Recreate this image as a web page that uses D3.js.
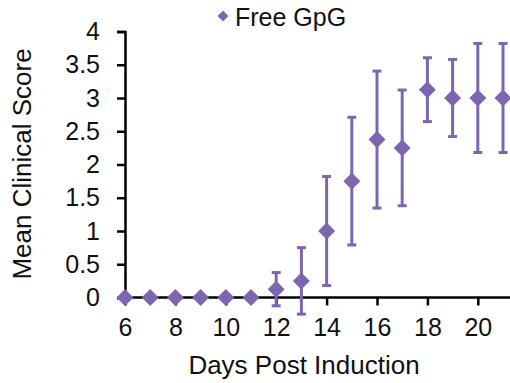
<!DOCTYPE html>
<html>
<head>
<meta charset="utf-8">
<script src="https://cdn.jsdelivr.net/npm/d3@7/dist/d3.min.js"></script>
<style>
  html, body { margin: 0; padding: 0; background: #fff; }
  svg { display: block; }
  text { font-family: "Liberation Sans", Arial, sans-serif; fill: #111; }
</style>
</head>
<body>
<svg id="chart" width="510" height="383"></svg>
<script>
// Mean clinical score by day after induction, with error bars
const days   = [6, 7, 8, 9, 10, 11, 12, 13, 14, 15, 16, 17, 18, 19, 20, 21];
const means  = [0, 0, 0, 0, 0, 0, 0.125, 0.25, 1, 1.75, 2.375, 2.25, 3.125, 3, 3, 3];
const errors = [0, 0, 0, 0, 0, 0, 0.25, 0.5, 0.82, 0.96, 1.03, 0.87, 0.48, 0.58, 0.82, 0.82];
const xTicks = [6, 8, 10, 12, 14, 16, 18, 20];
const yTicks = [0, 0.5, 1, 1.5, 2, 2.5, 3, 3.5, 4];
const seriesName = "Free GpG";

const color = "#7d66b0";
const svg = d3.select("#chart");

const x = d3.scaleLinear().domain([6, 21]).range([125, 503]);
const y = d3.scaleLinear().domain([0, 4]).range([297.5, 31.5]);

// y axis
const yAxis = svg.append("g")
  .attr("transform", `translate(${x(6)},0)`)
  .call(d3.axisLeft(y).tickValues(yTicks).tickFormat(d3.format("")).tickSize(8).tickPadding(17));

// x axis, line runs past the last day to the edge
const xAxis = svg.append("g")
  .attr("transform", `translate(0,${y(0)})`)
  .call(d3.axisBottom(x).tickValues(xTicks).tickFormat(d3.format("d")).tickSize(8).tickSizeOuter(0).tickPadding(13));
xAxis.select(".domain").attr("d", `M${x(6)},0H515`);

[yAxis, xAxis].forEach(g => {
  g.select(".domain").attr("stroke", "#000").attr("stroke-width", 2.5);
  g.selectAll(".tick line").attr("stroke", "#000").attr("stroke-width", 2.5);
  g.selectAll(".tick text").style("font-size", "25px").attr("fill", "#111")
   .style("font-family", "'Liberation Sans', Arial, sans-serif");
});

// error bars
const rows = days.map((d, i) => ({ day: d, mean: means[i], err: errors[i] }));
const eb = svg.append("g").attr("stroke", color).attr("stroke-width", 3);
rows.filter(r => r.err > 0).forEach(r => {
  const cx = x(r.day), y1 = y(r.mean + r.err), y0 = y(r.mean - r.err);
  eb.append("line").attr("x1", cx).attr("x2", cx).attr("y1", y1).attr("y2", y0);
  eb.append("line").attr("x1", cx - 4.5).attr("x2", cx + 4.5).attr("y1", y1).attr("y2", y1);
  eb.append("line").attr("x1", cx - 4.5).attr("x2", cx + 4.5).attr("y1", y0).attr("y2", y0);
});

// diamond markers
const diamond = r => `M0,${-r}L${r},0L0,${r}L${-r},0Z`;
svg.append("g").selectAll("path").data(rows).join("path")
  .attr("d", diamond(8.5))
  .attr("transform", d => `translate(${x(d.day)},${y(d.mean)})`)
  .attr("fill", color);

// legend
svg.append("path").attr("d", diamond(5.5)).attr("transform", "translate(223,16)").attr("fill", color);
svg.append("text").attr("x", 235).attr("y", 26).style("font-size", "25px").text(seriesName);

// axis titles
svg.append("text").attr("x", 304).attr("y", 374).attr("text-anchor", "middle")
  .style("font-size", "26px").text("Days Post Induction");
svg.append("text").attr("transform", "translate(31,164) rotate(-90)").attr("text-anchor", "middle")
  .style("font-size", "26px").text("Mean Clinical Score");
</script>
</body>
</html>
